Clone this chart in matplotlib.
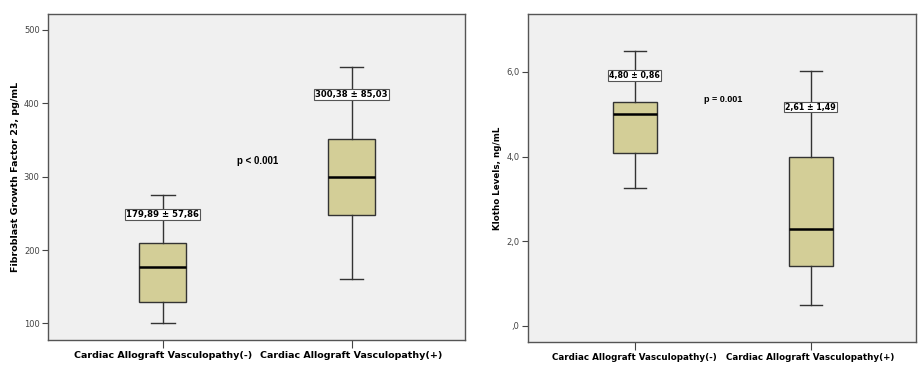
"""
FGF-23 and Klotho levels by cardiac allograft vasculopathy status.
"""

import matplotlib.pyplot as plt

categories = ["Cardiac Allograft Vasculopathy(-)", "Cardiac Allograft Vasculopathy(+)"]

# FGF-23, pg/mL: whisker low, Q1, median, Q3, whisker high
fgf_low = [100, 160]
fgf_q1 = [129, 248]
fgf_med = [177, 300]
fgf_q3 = [210, 352]
fgf_high = [275, 450]
fgf_labels = ["179,89 ± 57,86", "300,38 ± 85,03"]
fgf_label_y = [248, 412]
fgf_p = "p < 0.001"

# Klotho, ng/mL
klo_low = [3.25, 0.5]
klo_q1 = [4.08, 1.40]
klo_med = [5.0, 2.29]
klo_q3 = [5.29, 4.0]
klo_high = [6.5, 6.02]
klo_labels = ["4,80 ± 0,86", "2,61 ± 1,49"]
klo_label_y = [5.91, 5.17]
klo_p = "p = 0.001"

BG = "#f0f0f0"
BOX = "#d3ce97"
EDGE = "#333333"


def stats(low, q1, med, q3, high):
    return [dict(whislo=a, q1=b, med=c, q3=d, whishi=e, fliers=[])
            for a, b, c, d, e in zip(low, q1, med, q3, high)]


def draw(ax, st, labels, label_y, p_text, p_pos, ylim, yticks, yticklabels, ylabel, k=1.0):
    ax.set_facecolor(BG)
    ax.bxp(st, positions=[1, 2], widths=0.25, patch_artist=True,
           boxprops=dict(facecolor=BOX, edgecolor=EDGE, linewidth=1.0),
           medianprops=dict(color="black", linewidth=1.8),
           whiskerprops=dict(color=EDGE, linewidth=1.0),
           capprops=dict(color=EDGE, linewidth=1.0), capwidths=0.125)
    for x, y, t in zip([1, 2], label_y, labels):
        ax.text(x, y, t, ha="center", va="center", fontsize=6.1 * k, fontweight="bold",
                bbox=dict(boxstyle="square,pad=0.12", facecolor="white",
                          edgecolor="#555555", linewidth=0.8))
    ax.text(p_pos[0], p_pos[1], p_text, ha="center", va="center",
            fontsize=7 * k, fontweight="bold", family="Liberation Sans")
    ax.set_xlim(0.392, 2.60)
    ax.set_ylim(*ylim)
    ax.set_xticks([1, 2])
    ax.set_xticklabels(categories, fontsize=6.8 * k, fontweight="bold")
    ax.set_yticks(yticks)
    ax.set_yticklabels(yticklabels, fontsize=6, color="#444444")
    ax.set_ylabel(ylabel, fontsize=6.8 * k, fontweight="bold", labelpad=3)
    ax.tick_params(axis="both", direction="out", length=4, color="#444444", pad=2)
    ax.tick_params(axis="x", length=6, pad=2)
    for s in ax.spines.values():
        s.set_color("#555555")
        s.set_linewidth(1.0)


fig = plt.figure(figsize=(9.22, 3.66), dpi=100)
ax1 = fig.add_axes([48 / 922, 1 - 340 / 366, 417 / 922, 326 / 366])
ax2 = fig.add_axes([528 / 922, 1 - 341.7 / 366, 388 / 922, 327.7 / 366])

draw(ax1, stats(fgf_low, fgf_q1, fgf_med, fgf_q3, fgf_high), fgf_labels, fgf_label_y,
     fgf_p, (1.5, 322), (77.3, 521.8), [100, 200, 300, 400, 500],
     ["100", "200", "300", "400", "500"], "Fibroblast Growth Factor 23, pg/mL")
draw(ax2, stats(klo_low, klo_q1, klo_med, klo_q3, klo_high), klo_labels, klo_label_y,
     klo_p, (1.5, 5.35), (-0.378, 7.37), [0, 2, 4, 6],
     [",0", "2,0", "4,0", "6,0"], "Klotho Levels, ng/mL", k=0.93)

fig.savefig("out.png", dpi=100)
